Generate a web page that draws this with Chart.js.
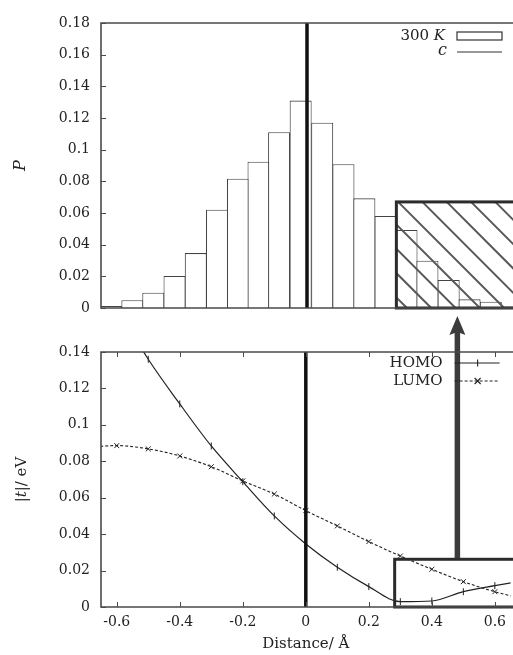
<!DOCTYPE html>
<html>
<head>
<meta charset="utf-8">
<title>P and |t| vs distance</title>
<script src="https://cdn.jsdelivr.net/npm/chart.js"></script>
<style>
  html, body { margin: 0; padding: 0; background: #fff; overflow: hidden; }
  #wrap { position: relative; width: 513px; height: 655px; }
  #topChart { position: absolute; left: 0; top: 0; }
  #bottomChart { position: absolute; left: 0; top: 312px; }
</style>
</head>
<body>
<div id="wrap">
  <canvas id="topChart" width="513" height="330"></canvas>
  <canvas id="bottomChart" width="513" height="343"></canvas>
</div>
<script>
// histogram at 300 K: bin centres (Å) and probability P
const binCentres = [-0.618, -0.551, -0.485, -0.418, -0.351, -0.284, -0.218, -0.153, -0.088, -0.020,
                    0.048, 0.115, 0.181, 0.248, 0.314, 0.380, 0.447, 0.513, 0.580, 0.646];
const binP = [0.0013, 0.0049, 0.0097, 0.0202, 0.0347, 0.0621, 0.0817, 0.0924, 0.111, 0.131,
              0.117, 0.0908, 0.0693, 0.0581, 0.0493, 0.0299, 0.0177, 0.0055, 0.004, 0.001];

// transfer integrals |t| (eV) against displacement (Å)
const homoX = [-0.6, -0.5, -0.4, -0.3, -0.2, -0.1, 0, 0.1, 0.2, 0.3, 0.4, 0.5, 0.6, 0.7];
const homoT = [0.165, 0.136, 0.1115, 0.0884, 0.0688, 0.050, 0.0346, 0.0218, 0.0112, 0.0029, 0.0033, 0.0084, 0.0117, 0.0147];
const lumoX = [-0.7, -0.6, -0.5, -0.4, -0.3, -0.2, -0.1, 0, 0.1, 0.2, 0.3, 0.4, 0.5, 0.6, 0.7];
const lumoT = [0.0875, 0.0886, 0.0868, 0.0829, 0.077, 0.0692, 0.062, 0.0529, 0.0445, 0.0359, 0.028, 0.0207, 0.0139, 0.0084, 0.004];

const xTicks = [-0.6, -0.4, -0.2, 0, 0.2, 0.4, 0.6];
const xRange = [-0.65, 0.65];

// zoomed region marked in both panels
const insetX = [0.282, 0.7];
const insetTopY = [0, 0.067];
const insetBotY = [0, 0.0262];
const arrowX = 0.481;

const FAMILY = "'DejaVu Serif', 'Liberation Serif', serif";
const INK = '#222';
const FRAME = '#4a4a4a';

function richText(ctx, parts, x, y, align, size, angle) {
  ctx.save();
  ctx.translate(x, y);
  if (angle) ctx.rotate(angle);
  const fonts = parts.map(p => (p[1] ? 'italic ' : '') + size + 'px ' + FAMILY);
  const widths = parts.map((p, i) => { ctx.font = fonts[i]; return ctx.measureText(p[0]).width; });
  const total = widths.reduce((a, b) => a + b, 0);
  let cx = align === 'right' ? -total : align === 'center' ? -total / 2 : 0;
  ctx.textBaseline = 'middle';
  ctx.textAlign = 'left';
  ctx.fillStyle = INK;
  parts.forEach((p, i) => { ctx.font = fonts[i]; ctx.fillText(p[0], cx, 0); cx += widths[i]; });
  ctx.restore();
}

function drawFrame(ctx, area, xScale, yScale, xTickMarks) {
  ctx.save();
  ctx.strokeStyle = FRAME;
  ctx.lineWidth = 1.6;
  ctx.beginPath();
  ctx.moveTo(area.right + 5, area.top);
  ctx.lineTo(area.left, area.top);
  ctx.lineTo(area.left, area.bottom);
  ctx.lineTo(area.right + 5, area.bottom);
  ctx.stroke();
  ctx.lineWidth = 1;
  ctx.beginPath();
  yScale.ticks.forEach(t => {
    const py = Math.round(yScale.getPixelForValue(t.value)) + 0.5;
    ctx.moveTo(area.left, py);
    ctx.lineTo(area.left + 5, py);
  });
  if (xTickMarks) {
    xScale.ticks.forEach(t => {
      const px = Math.round(xScale.getPixelForValue(t.value)) + 0.5;
      ctx.moveTo(px, area.top);
      ctx.lineTo(px, area.top + 5);
      ctx.moveTo(px, area.bottom);
      ctx.lineTo(px, area.bottom - 5);
    });
  }
  ctx.stroke();
  ctx.restore();
}

function zeroLine(ctx, area, xScale) {
  const px = xScale.getPixelForValue(0);
  ctx.save();
  ctx.strokeStyle = '#111';
  ctx.lineWidth = 3.5;
  ctx.beginPath();
  ctx.moveTo(px, area.top);
  ctx.lineTo(px, area.bottom);
  ctx.stroke();
  ctx.restore();
}

function insetBox(ctx, xScale, yScale, yr, hatched) {
  const x0 = xScale.getPixelForValue(insetX[0]);
  const x1 = xScale.getPixelForValue(insetX[1]);
  const y0 = yScale.getPixelForValue(yr[1]);
  const y1 = yScale.getPixelForValue(yr[0]);
  ctx.save();
  if (hatched) {
    ctx.save();
    ctx.beginPath();
    ctx.rect(x0, y0, x1 - x0, y1 - y0);
    ctx.clip();
    const h = y1 - y0;
    const gap = 24.3;
    ctx.beginPath();
    for (let s = x0 + 26 - gap * Math.ceil((h + 26) / gap); s < x1; s += gap) {
      ctx.moveTo(s, y0);
      ctx.lineTo(s + h, y1);
    }
    ctx.strokeStyle = '#595959';
    ctx.lineWidth = 2;
    ctx.stroke();
    ctx.restore();
  }
  ctx.strokeStyle = '#2b2b2b';
  ctx.lineWidth = 3;
  ctx.strokeRect(x0, y0, x1 - x0, y1 - y0);
  ctx.restore();
}

const yAxisWidth = scale => { scale.width = 101; };

const topPlugin = {
  id: 'topDecor',
  afterDatasetsDraw(chart) {
    const { ctx, chartArea: a, scales: { x, y } } = chart;
    zeroLine(ctx, a, x);
    insetBox(ctx, x, y, insetTopY, true);
    drawFrame(ctx, a, x, y, false);
    // legend
    richText(ctx, [['300 ', false], ['K', true]], a.right - 68, a.top + 13, 'right', 15);
    ctx.save();
    ctx.strokeStyle = '#333';
    ctx.lineWidth = 1.2;
    ctx.strokeRect(a.right - 56, a.top + 9, 45, 8);
    ctx.beginPath();
    ctx.moveTo(a.right - 56, a.top + 29);
    ctx.lineTo(a.right - 11, a.top + 29);
    ctx.stroke();
    ctx.restore();
    richText(ctx, [['c', true]], a.right - 66, a.top + 28, 'right', 16);
    richText(ctx, [['P', true]], 21, (a.top + a.bottom) / 2, 'center', 16, -Math.PI / 2);
  }
};

const bottomPlugin = {
  id: 'bottomDecor',
  afterDatasetsDraw(chart) {
    const { ctx, chartArea: a, scales: { x, y } } = chart;
    zeroLine(ctx, a, x);
    insetBox(ctx, x, y, insetBotY, false);
    // arrow up to the histogram inset
    const ax = x.getPixelForValue(arrowX);
    const by = y.getPixelForValue(insetBotY[1]);
    const tip = a.top - 36;
    ctx.save();
    ctx.strokeStyle = '#3c3c3c';
    ctx.fillStyle = '#3c3c3c';
    ctx.lineWidth = 5.5;
    ctx.beginPath();
    ctx.moveTo(ax, by - 1);
    ctx.lineTo(ax, tip + 14);
    ctx.stroke();
    ctx.beginPath();
    ctx.moveTo(ax, tip);
    ctx.lineTo(ax - 8, tip + 19);
    ctx.lineTo(ax, tip + 16);
    ctx.lineTo(ax + 8, tip + 19);
    ctx.closePath();
    ctx.fill();
    ctx.restore();
    drawFrame(ctx, a, x, y, true);
    // legend
    richText(ctx, [['HOMO', false]], a.right - 68, a.top + 11, 'right', 15);
    richText(ctx, [['LUMO', false]], a.right - 68, a.top + 29, 'right', 15);
    ctx.save();
    ctx.strokeStyle = INK;
    ctx.lineWidth = 1.1;
    ctx.beginPath();
    ctx.moveTo(a.right - 56, a.top + 11);
    ctx.lineTo(a.right - 11, a.top + 11);
    ctx.moveTo(a.right - 33, a.top + 7.5);
    ctx.lineTo(a.right - 33, a.top + 14.5);
    ctx.stroke();
    ctx.setLineDash([3, 2]);
    ctx.beginPath();
    ctx.moveTo(a.right - 56, a.top + 29);
    ctx.lineTo(a.right - 11, a.top + 29);
    ctx.stroke();
    ctx.setLineDash([]);
    ctx.beginPath();
    ctx.moveTo(a.right - 36, a.top + 26);
    ctx.lineTo(a.right - 30, a.top + 32);
    ctx.moveTo(a.right - 30, a.top + 26);
    ctx.lineTo(a.right - 36, a.top + 32);
    ctx.stroke();
    ctx.restore();
    richText(ctx, [['|', false], ['t', true], ['|/ eV', false]], 22, (a.top + a.bottom) / 2, 'center', 15, -Math.PI / 2);
  }
};

const tickFont = { family: FAMILY, size: 14 };
const fixedTicks = scale => { scale.ticks = xTicks.map(v => ({ value: v })); };
const fmt = v => String(+Number(v).toFixed(2));

new Chart(document.getElementById('topChart'), {
  type: 'bar',
  data: {
    datasets: [{
      label: '300 K',
      data: binCentres.map((c, i) => ({ x: c, y: binP[i] })),
      backgroundColor: '#fff',
      borderColor: '#444',
      borderWidth: 1.1,
      barPercentage: 1,
      categoryPercentage: 1.07
    }]
  },
  options: {
    responsive: false,
    animation: false,
    layout: { autoPadding: false, padding: { top: 23, bottom: 22, left: 0, right: 0 } },
    plugins: { legend: { display: false }, tooltip: { enabled: false } },
    scales: {
      x: {
        type: 'linear', min: xRange[0], max: xRange[1], offset: false,
        display: false, afterBuildTicks: fixedTicks
      },
      y: {
        min: 0, max: 0.18,
        grid: { display: false, drawTicks: false },
        border: { display: false },
        ticks: { stepSize: 0.02, font: tickFont, color: INK, padding: 11, callback: fmt },
        afterFit: yAxisWidth
      }
    }
  },
  plugins: [topPlugin]
});

new Chart(document.getElementById('bottomChart'), {
  type: 'line',
  data: {
    datasets: [
      {
        label: 'HOMO',
        data: homoX.map((d, i) => ({ x: d, y: homoT[i] })),
        borderColor: INK,
        borderWidth: 1.2,
        pointStyle: 'line',
        pointRotation: 90,
        pointRadius: 3.5,
        pointBorderColor: INK,
        pointBorderWidth: 1,
        cubicInterpolationMode: 'monotone',
        fill: false
      },
      {
        label: 'LUMO',
        data: lumoX.map((d, i) => ({ x: d, y: lumoT[i] })),
        borderColor: INK,
        borderWidth: 1.1,
        borderDash: [3, 2],
        pointStyle: 'crossRot',
        pointRadius: 3.5,
        pointBorderColor: INK,
        pointBorderWidth: 1,
        cubicInterpolationMode: 'monotone',
        fill: false
      }
    ]
  },
  options: {
    responsive: false,
    animation: false,
    layout: { autoPadding: false, padding: { top: 40, bottom: 0, left: 0, right: 0 } },
    plugins: { legend: { display: false }, tooltip: { enabled: false } },
    scales: {
      x: {
        type: 'linear', min: xRange[0], max: xRange[1],
        grid: { display: false, drawTicks: false },
        border: { display: false },
        ticks: { font: tickFont, color: INK, padding: 7, callback: v => String(+Number(v).toFixed(1)) },
        afterBuildTicks: fixedTicks,
        title: { display: true, text: 'Distance/ Å', font: { family: FAMILY, size: 15 }, color: INK, padding: { top: 0, bottom: 2 } },
        afterFit: scale => { scale.height = 48; }
      },
      y: {
        min: 0, max: 0.14,
        grid: { display: false, drawTicks: false },
        border: { display: false },
        ticks: { stepSize: 0.02, font: tickFont, color: INK, padding: 11, callback: fmt },
        afterFit: yAxisWidth
      }
    }
  },
  plugins: [bottomPlugin]
});
</script>
</body>
</html>
